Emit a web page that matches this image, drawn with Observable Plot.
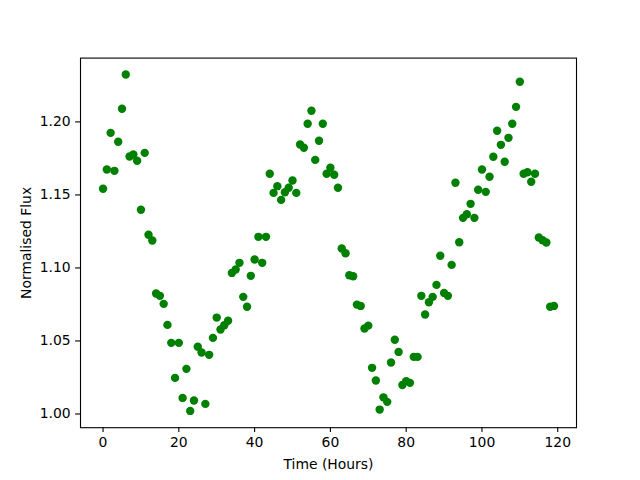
<!DOCTYPE html>
<html>
<head>
<meta charset="utf-8">
<script src="https://cdn.jsdelivr.net/npm/d3@7"></script>
<script src="https://cdn.jsdelivr.net/npm/@observablehq/plot@0.6"></script>
<style>
  html, body { margin: 0; padding: 0; background: #fff; }
</style>
</head>
<body>
<div id="chart"></div>
<script>
const hours = d3.range(0, 120);
const flux = [
  1.1542, 1.1674, 1.1925, 1.1665, 1.1864, 1.2090, 1.2325, 1.1763, 1.1777, 1.1734,
  1.1398, 1.1788, 1.1227, 1.1188, 1.0825, 1.0809, 1.0754, 1.0610, 1.0487, 1.0247,
  1.0487, 1.0110, 1.0309, 1.0021, 1.0092, 1.0460, 1.0421, 1.0069, 1.0405, 1.0521,
  1.0660, 1.0578, 1.0608, 1.0638, 1.0966, 1.0989, 1.1035, 1.0802, 1.0734, 1.0946,
  1.1058, 1.1213, 1.1035, 1.1213, 1.1645, 1.1514, 1.1560, 1.1466, 1.1518, 1.1549,
  1.1599, 1.1514, 1.1845, 1.1823, 1.1987, 1.2076, 1.1740, 1.1871, 1.1987, 1.1645,
  1.1686, 1.1638, 1.1549, 1.1133, 1.1101, 1.0950, 1.0943, 1.0749, 1.0740, 1.0585,
  1.0605, 1.0316, 1.0229, 1.0030, 1.0114, 1.0083, 1.0352, 1.0508, 1.0425, 1.0198,
  1.0225, 1.0213, 1.0391, 1.0391, 1.0809, 1.0681, 1.0765, 1.0802, 1.0884, 1.1083,
  1.0829, 1.0809, 1.1021, 1.1583, 1.1176, 1.1343, 1.1368, 1.1439, 1.1343, 1.1535,
  1.1674, 1.1521, 1.1624, 1.1761, 1.1939, 1.1843, 1.1727, 1.1891, 1.1987, 1.2103,
  1.2275, 1.1645, 1.1655, 1.1590, 1.1645, 1.1208, 1.1190, 1.1174, 1.0734, 1.0740
];
const xTicks = [0, 20, 40, 60, 80, 100, 120];
const yTicks = [1.00, 1.05, 1.10, 1.15, 1.20];

const data = hours.map((h, i) => ({hour: h, flux: flux[i]}));

const chart = Plot.plot({
  width: 640,
  height: 480,
  marginLeft: 80,
  marginRight: 64,
  marginTop: 57.6,
  marginBottom: 52.8,
  style: {fontFamily: "DejaVu Sans", fontSize: "13.9px", color: "black", background: "white"},
  x: {domain: [-5.95, 124.95]},
  y: {domain: [0.9906, 1.2437]},
  marks: [
    Plot.axisX({ticks: xTicks, tickSize: 4.9, tickPadding: 4.9, strokeWidth: 1.1,
      label: "Time (Hours)", labelAnchor: "center", labelArrow: "none", labelOffset: 41}),
    Plot.axisY({ticks: yTicks, tickSize: 4.9, tickPadding: 4.9, strokeWidth: 1.1,
      tickFormat: d3.format(".2f"),
      label: "Normalised Flux", labelAnchor: "center", labelArrow: "none", labelOffset: 59}),
    Plot.dot(data, {x: "hour", y: "flux", r: 4.2, fill: "#008000", stroke: "none"}),
    Plot.frame({stroke: "black", strokeWidth: 1.1})
  ]
});
document.getElementById("chart").appendChild(chart);
</script>
</body>
</html>
